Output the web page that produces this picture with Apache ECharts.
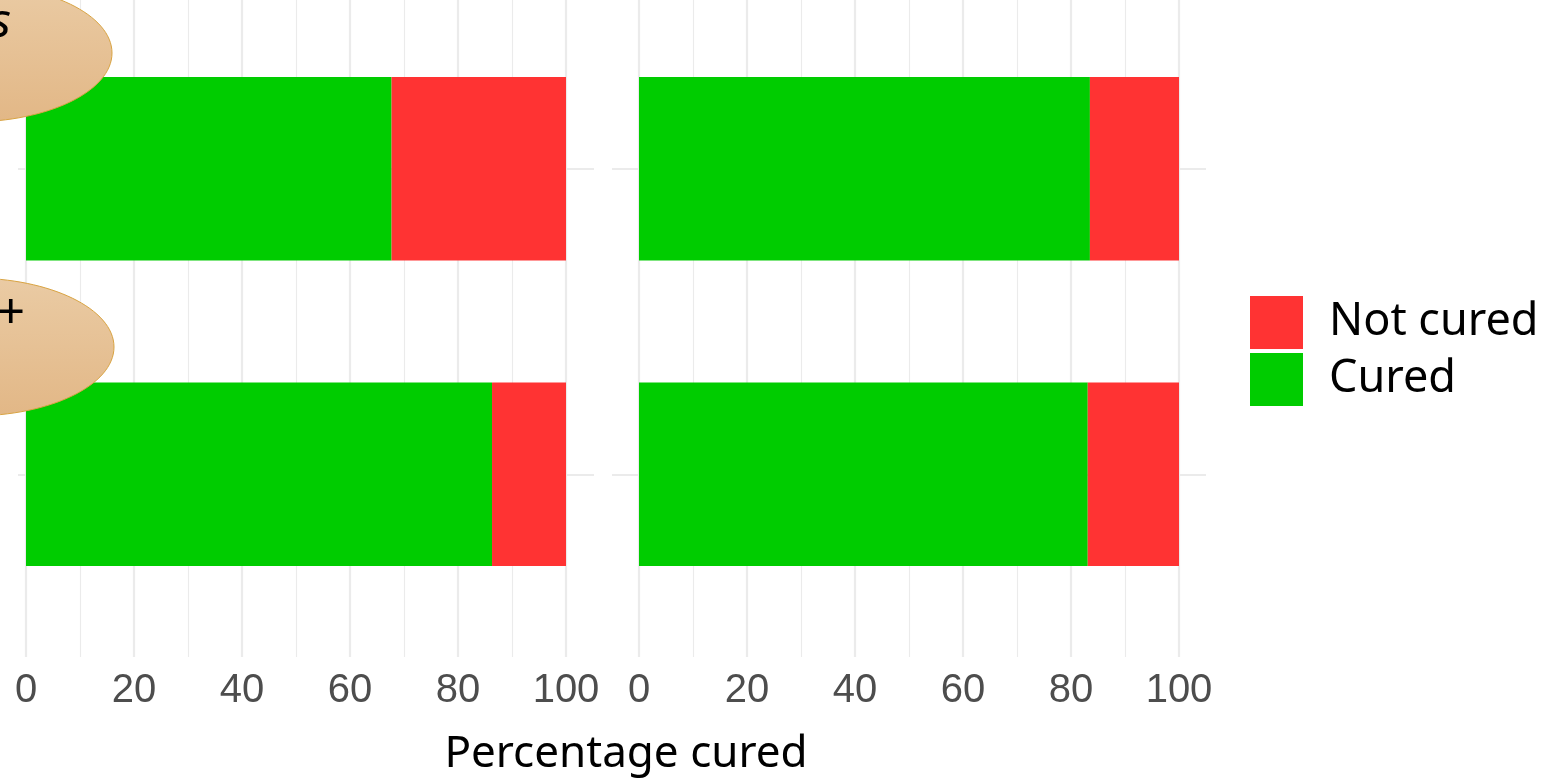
<!DOCTYPE html>
<html>
<head>
<meta charset="utf-8">
<script src="https://cdn.jsdelivr.net/npm/echarts@6/dist/echarts.min.js"></script>
<style>
html,body{margin:0;padding:0;background:#fff;}
#chart{width:1560px;height:781px;}
</style>
</head>
<body>
<div id="chart"></div>
<script>
// ---- data ----
const rowLabels = ['Row 1', 'Row 2'];           // top to bottom
const seriesNames = ['Not cured', 'Cured'];
const curedLeft = [67.7, 86.3];
const notCuredLeft = [32.3, 13.7];
const curedRight = [83.5, 83.1];
const notCuredRight = [16.5, 16.9];
const xMin = 0, xMax = 100, xMajor = 20;
const axisTitle = 'Percentage cured';
const bubbleTexts = ['s', '+'];

// ---- styles ----
const GREEN = '#00cc00', RED = '#ff3333', GRID = '#ebebeb';
const sansUI = '"Noto Sans", "Open Sans", sans-serif';
const panelZero = [26, 639];
const panelW = 540;
const hLeft = [18, 612], hRight = [594, 1206];
const rowTop = 168.7, rowSpan = 305.6;

const grids = [], xAxes = [], yAxes = [], series = [];
panelZero.forEach(function (z, p) {
  // grid for vertical gridlines + tick labels
  grids.push({ left: z, width: panelW, top: 0, height: 657 });
  xAxes.push({
    gridIndex: grids.length - 1, type: 'value', min: xMin, max: xMax, interval: xMajor,
    axisLine: { show: false }, axisTick: { show: false },
    axisLabel: { color: '#4d4d4d', fontSize: 40, fontFamily: '"Liberation Sans", Arial, sans-serif', margin: 14 },
    splitLine: { show: true, lineStyle: { color: GRID, width: 2.2 } },
    minorTick: { show: false, splitNumber: 2 },
    minorSplitLine: { show: true, lineStyle: { color: GRID, width: 1.1 } }
  });
  yAxes.push({ gridIndex: grids.length - 1, type: 'value', min: 0, max: 1, show: false });

  // grid for horizontal gridlines at the row centres
  grids.push({ left: hLeft[p], width: hRight[p] - hLeft[p], top: rowTop, height: rowSpan });
  xAxes.push({ gridIndex: grids.length - 1, type: 'value', min: 0, max: 1, show: false });
  yAxes.push({
    gridIndex: grids.length - 1, type: 'value', min: 0, max: 1, interval: 1,
    axisLine: { show: false }, axisTick: { show: false }, axisLabel: { show: false },
    splitLine: { show: true, lineStyle: { color: GRID, width: 2.2 } }
  });

  // grid for the bars
  grids.push({ left: z, width: panelW, top: rowTop - rowSpan / 2, height: rowSpan * 2 });
  const gi = grids.length - 1;
  xAxes.push({ gridIndex: gi, type: 'value', min: xMin, max: xMax, show: false });
  yAxes.push({ gridIndex: gi, type: 'category', data: rowLabels, inverse: true, show: false });

  const cured = p === 0 ? curedLeft : curedRight;
  const notCured = p === 0 ? notCuredLeft : notCuredRight;
  series.push({
    name: 'Cured', type: 'bar', stack: 'p' + p, xAxisIndex: gi, yAxisIndex: gi,
    barWidth: '60%', data: cured, itemStyle: { color: GREEN }, silent: true
  });
  series.push({
    name: 'Not cured', type: 'bar', stack: 'p' + p, xAxisIndex: gi, yAxisIndex: gi,
    barWidth: '60%', data: notCured, itemStyle: { color: RED }, silent: true
  });
});

const bubbleFill = {
  type: 'linear', x: 0, y: 0, x2: 0, y2: 1,
  colorStops: [{ offset: 0, color: '#eacba4' }, { offset: 1, color: '#e2b786' }]
};

const option = {
  animation: false,
  backgroundColor: '#fff',
  grid: grids, xAxis: xAxes, yAxis: yAxes, series: series,
  legend: {
    data: seriesNames, orient: 'vertical', left: 1250, top: 296, padding: 0,
    itemWidth: 53, itemHeight: 53, itemGap: 4, icon: 'rect',
    textStyle: { fontSize: 45, color: '#000', fontFamily: sansUI, padding: [0, 0, 0, 21] }
  },
  graphic: [
    { type: 'ellipse', z: 100, shape: { cx: -30, cy: 53, rx: 142, ry: 69 },
      style: { fill: bubbleFill, stroke: '#d9a443', lineWidth: 1 } },
    { type: 'ellipse', z: 100, shape: { cx: -28, cy: 347, rx: 142, ry: 69 },
      style: { fill: bubbleFill, stroke: '#d9a443', lineWidth: 1 } },
    { type: 'text', z: 101, style: { text: bubbleTexts[0], x: 11, y: 23, textAlign: 'right',
      textVerticalAlign: 'middle', font: 'italic 48px ' + sansUI, fill: '#000' } },
    { type: 'text', z: 101, style: { text: bubbleTexts[1], x: 24, y: 314, textAlign: 'right',
      textVerticalAlign: 'middle', font: 'italic 50px ' + sansUI, fill: '#000' } },
    { type: 'text', z: 101, style: { text: axisTitle, x: 626, y: 754, textAlign: 'center',
      textVerticalAlign: 'middle', font: '44px ' + sansUI, fill: '#000' } }
  ]
};
echarts.init(document.getElementById('chart')).setOption(option);
</script>
</body>
</html>
